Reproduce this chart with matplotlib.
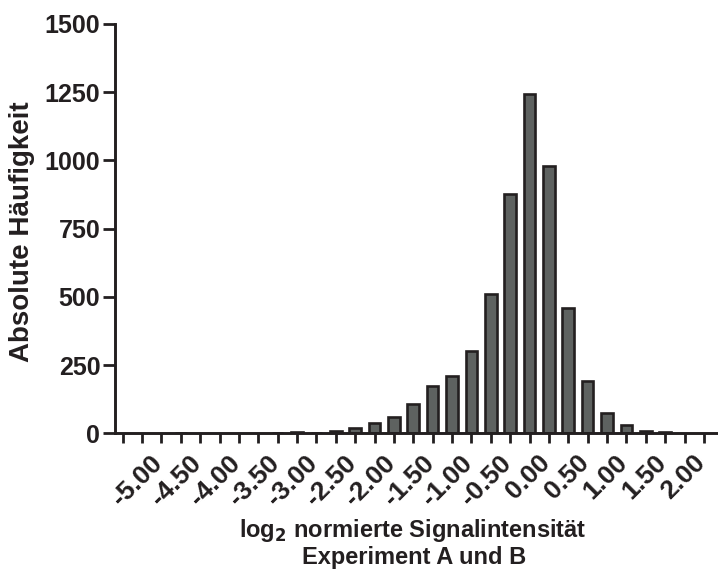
import matplotlib.pyplot as plt
import matplotlib.transforms as mtransforms

# bin centres (log2 ratio) and counts per bin
bin_centers = [-5.25, -5.00, -4.75, -4.50, -4.25, -4.00, -3.75, -3.50,
               -3.25, -3.00, -2.75, -2.50, -2.25, -2.00, -1.75, -1.50,
               -1.25, -1.00, -0.75, -0.50, -0.25, 0.00, 0.25, 0.50,
               0.75, 1.00, 1.25, 1.50, 1.75, 2.00, 2.25]
counts = [0, 0, 0, 2, 0, 0, 0, 0,
          3, 4, 2, 10, 20, 37, 58, 108,
          172, 210, 303, 510, 878, 1243, 980, 460,
          190, 76, 30, 8, 4, 0, 0]
label_ticks = [-5.0, -4.5, -4.0, -3.5, -3.0, -2.5, -2.0, -1.5, -1.0,
               -0.5, 0.0, 0.5, 1.0, 1.5, 2.0]
y_ticks = [0, 250, 500, 750, 1000, 1250, 1500]

ink = '#231f20'
plt.rcParams['font.family'] = ['Liberation Sans', 'DejaVu Sans']
plt.rcParams['font.weight'] = 'bold'

fig = plt.figure(figsize=(7.18, 5.84), dpi=100)
ax = fig.add_axes([0.160, 0.258, 0.842, 0.701])

xs = [c for c, n in zip(bin_centers, counts) if n > 0]
hs = [n for n in counts if n > 0]
ax.bar(xs, hs, width=0.15, color='#5e6260', edgecolor=ink, linewidth=1.9,
       zorder=3)

ax.set_xlim(-5.35, 2.45)
ax.set_ylim(0, 1500)

for s in ['top', 'right']:
    ax.spines[s].set_visible(False)
for s in ['left', 'bottom']:
    ax.spines[s].set_linewidth(2.1)
    ax.spines[s].set_color(ink)
    ax.spines[s].set_zorder(4)

ax.set_yticks(y_ticks)
ax.set_yticklabels([str(v) for v in y_ticks], fontsize=18, fontweight='bold',
                   color=ink)
ax.set_xticks(bin_centers)
ax.set_xticklabels(['%.2f' % c if c in label_ticks else '' for c in bin_centers],
                   fontsize=19, fontweight='bold', color=ink,
                   rotation=45, ha='right', va='top', rotation_mode='anchor')
ax.tick_params(axis='y', length=8.5, width=2.0, color=ink, pad=2)
ax.tick_params(axis='x', length=7.5, width=2.0, color=ink, pad=5)

shift = mtransforms.ScaledTranslation(6 / 72, 0, fig.dpi_scale_trans)
for lab in ax.get_xticklabels():
    lab.set_transform(lab.get_transform() + shift)

fig.text(0.031, 0.603, 'Absolute Häufigkeit', rotation=90, ha='center',
         va='center', fontsize=20, fontweight='bold', color=ink)
fig.text(0.575, 0.091, r'log$_\mathbf{2}$ normierte Signalintensität',
         ha='center', va='center', fontsize=17, fontweight='bold', color=ink)
fig.text(0.577, 0.045, 'Experiment A und B', ha='center', va='center',
         fontsize=17, fontweight='bold', color=ink)

fig.savefig('out.png', dpi=100)
